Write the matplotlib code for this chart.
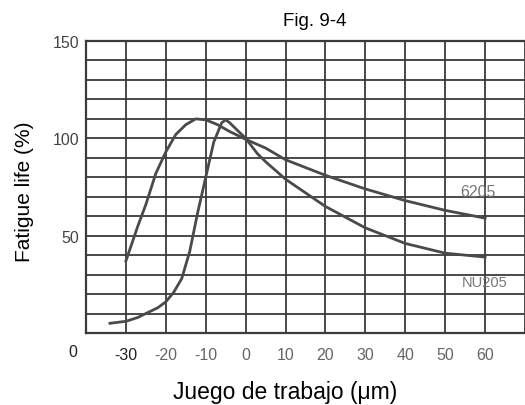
import matplotlib
matplotlib.use("Agg")
import matplotlib.pyplot as plt

plt.rcParams["font.family"] = ["Liberation Sans", "DejaVu Sans"]

# 6205 curve
x_6205 = [-30, -27, -25, -22.5, -20, -17.5, -15, -12.5, -10, -7, -4, 0, 5, 10, 20, 30, 40, 50, 60]
y_6205 = [37, 55, 66, 82, 93, 102, 107, 110, 109.5, 107, 103.5, 99.5, 95, 89, 81, 74, 68, 63, 59]

# NU205 curve
x_nu205 = [-34, -30, -27, -25, -22, -20, -18, -16, -14, -12, -10, -8, -6, -5, -4, -2, 0, 3, 5, 10, 15, 20, 30, 40, 50, 60]
y_nu205 = [5, 6, 8, 10, 13, 16, 21, 28, 42, 62, 80, 98, 108, 109.5, 108, 104, 100, 92, 88, 79, 72, 65, 54, 46, 41, 39]

x_grid = list(range(-40, 71, 10))
x_labels = ["", "-30", "-20", "-10", "0", "10", "20", "30", "40", "50", "60", ""]
y_grid = list(range(0, 151, 10))
y_labels = ["" if v not in (50, 100, 150) else str(v) for v in y_grid]

fig = plt.figure(figsize=(5.25, 4.06), dpi=100)
ax = fig.add_axes([86 / 525, 1 - 334 / 406, 1 - 86 / 525, (334 - 42) / 406])

gc = "#3a3a3a"
ax.set_xlim(-40, 69.3)
ax.set_ylim(0, 150)
ax.set_xticks(x_grid)
ax.set_xticklabels(x_labels, fontsize=11.5, color="#666666")
ax.get_xticklabels()[1].set_color("#222222")
ax.set_yticks(y_grid)
ax.set_yticklabels(y_labels, fontsize=11.5, color="#444444")
ax.tick_params(axis="x", length=0, pad=10)
ax.tick_params(axis="y", length=0, pad=5)
ax.grid(True, color=gc, linewidth=1.3)
for s in ax.spines.values():
    s.set_color(gc)
    s.set_linewidth(1.6)
ax.spines["right"].set_visible(False)

ax.plot(x_6205, y_6205, color="#4a4a4a", linewidth=2)
ax.plot(x_nu205, y_nu205, color="#4a4a4a", linewidth=2)

ax.text(58.2, 72.5, "6205", color="#777777", fontsize=11.5, ha="center", va="center")
ax.text(60, 26, "NU205", color="#777777", fontsize=10.5, ha="center", va="center")

fig.text(73 / 525, 1 - 353 / 406, "0", fontsize=11.5, ha="center", va="center", color="#222222")
fig.text(315 / 525, 1 - 21 / 406, "Fig. 9-4", fontsize=13.5, ha="center", va="center")
fig.text(285 / 525, 1 - 393 / 406, "Juego de trabajo (\u03bcm)", fontsize=16.5, ha="center", va="center")
fig.text(25 / 525, 1 - 192 / 406, "Fatigue life (%)", fontsize=15, ha="center", va="center", rotation=90)

fig.savefig("out.png", dpi=100)
